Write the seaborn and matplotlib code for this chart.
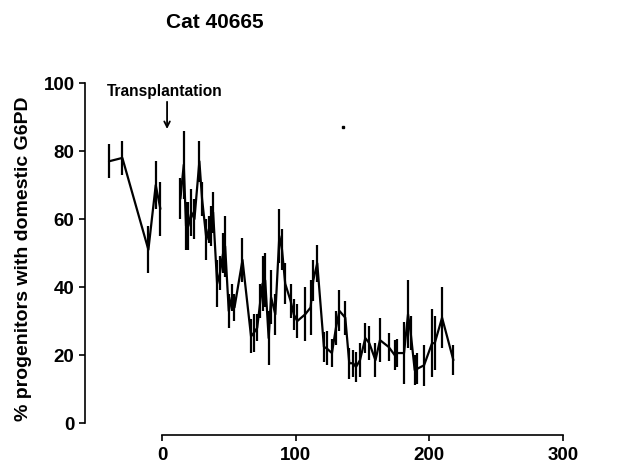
import numpy as np
import pandas as pd
import matplotlib
matplotlib.use("Agg")
import matplotlib.pyplot as plt
import seaborn as sns

# days relative to transplantation, % domestic G6PD, half-length of error bar
pre_days = [-40, -30, -10.5, -5, -1.5]
pre_pct = [77, 78, 51, 70, 63]
pre_err = [5, 5, 7, 7, 8]

post_days = [13.5, 16, 17.7, 19.5, 21.7, 24, 27.7, 29.7, 33, 34.7, 36.5, 38,
             41, 43, 45.5, 47, 49.7, 52, 54, 60, 66.4, 68.4, 71, 73.4, 75, 77,
             79.6, 81.4, 84.6, 87.6, 89.6, 92, 96, 98.4, 101, 107, 111, 113,
             116, 121, 123, 127, 130, 132.6, 137, 140, 143, 145, 148, 152, 155,
             159.6, 163, 169.5, 174, 176, 181, 184, 186, 189, 191, 196, 202,
             204, 209.5, 218]
post_pct = [66, 76, 58, 58, 62, 60, 77, 66, 54, 57, 58, 62,
            41, 44, 50, 52, 33, 37, 34, 48, 25.5, 26.5, 28, 36, 41, 42,
            25, 37, 32, 55, 51, 41, 36, 32, 30, 32, 34, 42,
            47, 22.4, 22, 20.6, 28, 33, 31, 17.6, 17.6, 16.5, 18.5, 25, 23.5,
            18.5, 24.4, 22.4, 20, 20.6, 20.6, 32, 26.5, 15.6, 16, 17, 23.5,
            23.5, 31, 18.5]
post_err = [6, 10, 7, 7, 7, 6, 6, 5, 6, 4, 6, 6,
            7, 5, 6, 9, 5, 4, 4, 6.5, 5, 5.5, 4, 5, 8, 8,
            8, 8, 6, 8, 6, 6, 5, 4.5, 5, 8, 8, 6,
            5.5, 4.5, 5, 4, 5, 6, 5, 4.5, 4, 4.5, 5, 4.5, 5,
            5, 6.5, 4, 4.5, 4, 9, 10, 5, 4.5, 4.5, 6, 10,
            8, 9, 4.5]

df = pd.concat([
    pd.DataFrame({'day': pre_days, 'pct': pre_pct, 'err': pre_err, 'phase': 'pre'}),
    pd.DataFrame({'day': post_days, 'pct': post_pct, 'err': post_err, 'phase': 'post'}),
], ignore_index=True)

sns.set_style('ticks')
plt.rcParams['font.family'] = ['Liberation Sans', 'DejaVu Sans']
plt.rcParams['font.weight'] = 'bold'
plt.rcParams['text.color'] = 'black'
plt.rcParams['axes.labelcolor'] = 'black'
plt.rcParams['xtick.color'] = 'black'
plt.rcParams['ytick.color'] = 'black'
plt.rcParams['axes.edgecolor'] = 'black'

fig = plt.figure(figsize=(6.18, 4.63), dpi=100)
ax = fig.add_axes([0.1375, 0.0605, 0.8165, 0.76])

sns.lineplot(data=df, x='day', y='pct', units='phase', estimator=None,
             color='black', linewidth=1.6, ax=ax)
ax.vlines(df['day'], df['pct'] - df['err'], df['pct'] + df['err'],
          color='black', linewidth=1.6)
# stray speck in the scan
ax.plot([135], [87], marker='s', markersize=1.5, color='black')

ax.set_xlim(-58, 320)
ax.set_ylim(-3.5, 100)
ax.set_xticks([0, 100, 200, 300])
ax.set_yticks([0, 20, 40, 60, 80, 100])
ax.tick_params(axis='both', labelsize=13.5, length=4, width=1.2,
               direction='out', color='black', labelcolor='black')
ax.tick_params(axis='x', pad=5)
for lab in ax.get_xticklabels() + ax.get_yticklabels():
    lab.set_fontweight('bold')

for s in ['top', 'right']:
    ax.spines[s].set_visible(False)
ax.spines['left'].set_bounds(0, 100)
ax.spines['bottom'].set_bounds(0, 300)
ax.spines['left'].set_linewidth(1.2)
ax.spines['bottom'].set_linewidth(1.2)

ax.set_xlabel('')
ax.set_ylabel('% progenitors with domestic G6PD', fontsize=14,
              fontweight='bold', labelpad=8, color='black')

ax.text(2, 97.5, 'Transplantation', ha='center', va='center',
        fontsize=11.2, fontweight='bold', color='black')
ax.annotate('', xy=(3.5, 86.5), xytext=(3.5, 94.5),
            arrowprops=dict(arrowstyle='->', color='black', lw=1.3,
                            shrinkA=0, shrinkB=0))

fig.text(0.347, 0.952, 'Cat 40665', ha='center', va='center',
         fontsize=15, fontweight='bold', color='black')

fig.savefig('out.png', dpi=100)
